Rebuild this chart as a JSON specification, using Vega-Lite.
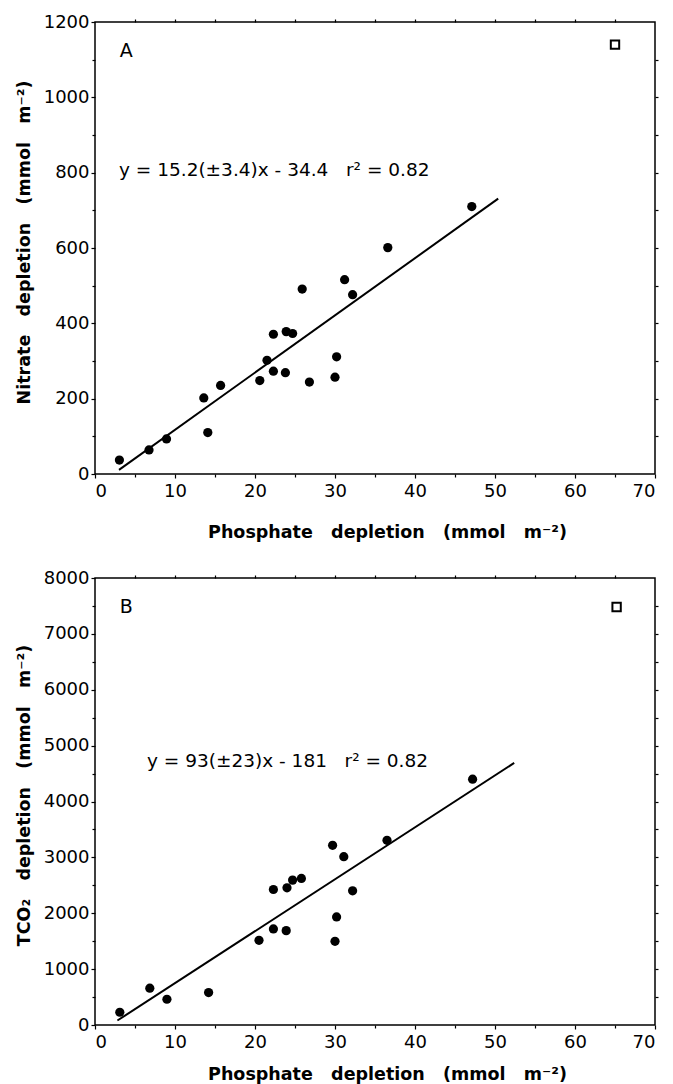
{
  "$schema": "https://vega.github.io/schema/vega-lite/v6.json",
  "padding": {"left": 14, "top": 12, "right": 5, "bottom": 5},
  "background": "white",
  "config": {
    "view": {"stroke": "black", "strokeWidth": 1.5},
    "font": "DejaVu Sans",
    "axis": {"grid": false, "domain": false, "tickColor": "black", "labelColor": "black", "titleColor": "black", "labelFont": "DejaVu Sans", "titleFont": "DejaVu Sans", "labelFontSize": 18, "titleFontSize": 17.5, "titleFontWeight": "bold", "tickWidth": 1.2, "format": "d"}
  },
  "datasets": {
    "nitrate": [
      {"p": 3.05, "v": 37}, {"p": 6.75, "v": 64}, {"p": 8.94, "v": 93}, {"p": 13.6, "v": 202},
      {"p": 14.1, "v": 110}, {"p": 15.7, "v": 235}, {"p": 20.6, "v": 248}, {"p": 21.5, "v": 302},
      {"p": 22.3, "v": 371}, {"p": 22.3, "v": 273}, {"p": 23.8, "v": 269}, {"p": 23.9, "v": 378},
      {"p": 24.7, "v": 373}, {"p": 25.9, "v": 491}, {"p": 26.8, "v": 244}, {"p": 30.0, "v": 257},
      {"p": 30.2, "v": 311}, {"p": 31.2, "v": 516}, {"p": 32.2, "v": 476}, {"p": 36.6, "v": 601},
      {"p": 47.1, "v": 710}
    ],
    "nitrateFit": [{"p": 3.0, "v": 11}, {"p": 50.4, "v": 731}],
    "nitrateOpen": [{"p": 65, "v": 1140}],
    "nitrateText": [
      {"p": 3.1, "v": 1123, "t": "A", "s": 19},
      {"p": 3.0, "v": 807, "t": "y = 15.2(±3.4)x - 34.4\u00a0\u00a0\u00a0r² = 0.82", "s": 18.5}
    ],
    "tco2": [
      {"p": 3.1, "v": 228}, {"p": 6.85, "v": 659}, {"p": 8.99, "v": 461}, {"p": 14.2, "v": 581},
      {"p": 20.5, "v": 1515}, {"p": 22.3, "v": 2425}, {"p": 22.3, "v": 1719}, {"p": 23.9, "v": 1689},
      {"p": 24.0, "v": 2455}, {"p": 24.7, "v": 2593}, {"p": 25.8, "v": 2623}, {"p": 29.7, "v": 3216},
      {"p": 30.0, "v": 1497}, {"p": 30.2, "v": 1934}, {"p": 31.1, "v": 3012}, {"p": 32.2, "v": 2401},
      {"p": 36.5, "v": 3305}, {"p": 47.2, "v": 4400}
    ],
    "tco2Fit": [{"p": 2.8, "v": 80}, {"p": 52.4, "v": 4690}],
    "tco2Open": [{"p": 65.2, "v": 7480}],
    "tco2Text": [
      {"p": 3.1, "v": 7480, "t": "B", "s": 19},
      {"p": 6.5, "v": 4724, "t": "y = 93(±23)x - 181\u00a0\u00a0\u00a0r² = 0.82", "s": 18.5}
    ]
  },
  "vconcat": [
    {
      "width": 560,
      "height": 452,
      "resolve": {"axis": {"x": "independent", "y": "independent"}},
      "layer": [
        {
          "data": {"name": "nitrate"},
          "mark": {"type": "point", "shape": "circle", "filled": true, "color": "black", "size": 85, "opacity": 1},
          "encoding": {
            "x": {"field": "p", "type": "quantitative", "scale": {"domain": [0, 70], "nice": false},
                  "axis": {"orient": "bottom", "values": [0, 10, 20, 30, 40, 50, 60, 70], "tickSize": 4, "labelPadding": 4, "titlePadding": 23, "titleX": 292,
                           "title": "Phosphate\u00a0\u00a0\u00a0depletion\u00a0\u00a0\u00a0(mmol\u00a0\u00a0\u00a0m⁻²)"}},
            "y": {"field": "v", "type": "quantitative", "scale": {"domain": [0, 1200], "nice": false},
                  "axis": {"orient": "left", "values": [0, 200, 400, 600, 800, 1000, 1200], "tickSize": 4, "labelPadding": 2, "titlePadding": 10, "titleY": 220,
                           "title": "Nitrate\u00a0\u00a0\u00a0depletion\u00a0\u00a0\u00a0(mmol\u00a0\u00a0\u00a0m⁻²)"}}
          }
        },
        {
          "data": {"name": "nitrateFit"},
          "mark": {"type": "line", "color": "black", "strokeWidth": 2},
          "encoding": {
            "x": {"field": "p", "type": "quantitative", "scale": {"domain": [0, 70], "nice": false},
                  "axis": {"orient": "bottom", "values": [5, 15, 25, 35, 45, 55, 65], "labels": false, "tickSize": 3, "title": null}},
            "y": {"field": "v", "type": "quantitative", "scale": {"domain": [0, 1200], "nice": false},
                  "axis": {"orient": "left", "values": [100, 300, 500, 700, 900, 1100], "labels": false, "tickSize": 3, "title": null}}
          }
        },
        {
          "data": {"name": "nitrateOpen"},
          "mark": {"type": "point", "shape": "square", "filled": false, "color": "black", "size": 70, "strokeWidth": 2, "opacity": 1},
          "encoding": {
            "x": {"field": "p", "type": "quantitative", "scale": {"domain": [0, 70], "nice": false},
                  "axis": {"orient": "top", "values": [5, 10, 15, 20, 25, 30, 35, 40, 45, 50, 55, 60, 65], "labels": false, "tickSize": 3, "title": null}},
            "y": {"field": "v", "type": "quantitative", "scale": {"domain": [0, 1200], "nice": false},
                  "axis": {"orient": "right", "values": [100, 200, 300, 400, 500, 600, 700, 800, 900, 1000, 1100], "labels": false, "tickSize": 3, "title": null}}
          }
        },
        {
          "data": {"name": "nitrateText"},
          "mark": {"type": "text", "align": "left", "baseline": "middle", "color": "black", "font": "DejaVu Sans"},
          "encoding": {
            "x": {"field": "p", "type": "quantitative", "scale": {"domain": [0, 70], "nice": false}, "axis": null},
            "y": {"field": "v", "type": "quantitative", "scale": {"domain": [0, 1200], "nice": false}, "axis": null},
            "text": {"field": "t"},
            "size": {"field": "s", "type": "quantitative", "scale": null}
          }
        }
      ]
    },
    {
      "width": 560,
      "height": 447,
      "resolve": {"axis": {"x": "independent", "y": "independent"}},
      "layer": [
        {
          "data": {"name": "tco2"},
          "mark": {"type": "point", "shape": "circle", "filled": true, "color": "black", "size": 85, "opacity": 1},
          "encoding": {
            "x": {"field": "p", "type": "quantitative", "scale": {"domain": [0, 70], "nice": false},
                  "axis": {"orient": "bottom", "values": [0, 10, 20, 30, 40, 50, 60, 70], "tickSize": 4, "labelPadding": 4, "titlePadding": 14, "titleX": 292,
                           "title": "Phosphate\u00a0\u00a0\u00a0depletion\u00a0\u00a0\u00a0(mmol\u00a0\u00a0\u00a0m⁻²)"}},
            "y": {"field": "v", "type": "quantitative", "scale": {"domain": [0, 8000], "nice": false},
                  "axis": {"orient": "left", "values": [0, 1000, 2000, 3000, 4000, 5000, 6000, 7000, 8000], "tickSize": 4, "labelPadding": 2, "titlePadding": 10, "titleY": 217,
                           "title": "TCO₂\u00a0\u00a0\u00a0depletion\u00a0\u00a0\u00a0(mmol\u00a0\u00a0\u00a0m⁻²)"}}
          }
        },
        {
          "data": {"name": "tco2Fit"},
          "mark": {"type": "line", "color": "black", "strokeWidth": 2},
          "encoding": {
            "x": {"field": "p", "type": "quantitative", "scale": {"domain": [0, 70], "nice": false},
                  "axis": {"orient": "bottom", "values": [5, 15, 25, 35, 45, 55, 65], "labels": false, "tickSize": 3, "title": null}},
            "y": {"field": "v", "type": "quantitative", "scale": {"domain": [0, 8000], "nice": false},
                  "axis": {"orient": "left", "values": [500, 1500, 2500, 3500, 4500, 5500, 6500, 7500], "labels": false, "tickSize": 3, "title": null}}
          }
        },
        {
          "data": {"name": "tco2Open"},
          "mark": {"type": "point", "shape": "square", "filled": false, "color": "black", "size": 70, "strokeWidth": 2, "opacity": 1},
          "encoding": {
            "x": {"field": "p", "type": "quantitative", "scale": {"domain": [0, 70], "nice": false},
                  "axis": {"orient": "top", "values": [5, 10, 15, 20, 25, 30, 35, 40, 45, 50, 55, 60, 65], "labels": false, "tickSize": 3, "title": null}},
            "y": {"field": "v", "type": "quantitative", "scale": {"domain": [0, 8000], "nice": false},
                  "axis": {"orient": "right", "values": [500, 1000, 1500, 2000, 2500, 3000, 3500, 4000, 4500, 5000, 5500, 6000, 6500, 7000, 7500], "labels": false, "tickSize": 3, "title": null}}
          }
        },
        {
          "data": {"name": "tco2Text"},
          "mark": {"type": "text", "align": "left", "baseline": "middle", "color": "black", "font": "DejaVu Sans"},
          "encoding": {
            "x": {"field": "p", "type": "quantitative", "scale": {"domain": [0, 70], "nice": false}, "axis": null},
            "y": {"field": "v", "type": "quantitative", "scale": {"domain": [0, 8000], "nice": false}, "axis": null},
            "text": {"field": "t"},
            "size": {"field": "s", "type": "quantitative", "scale": null}
          }
        }
      ]
    }
  ],
  "spacing": 26
}
